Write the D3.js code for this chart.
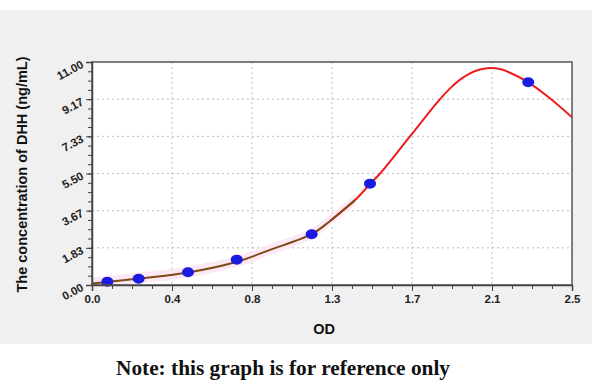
<!DOCTYPE html>
<html>
<head>
<meta charset="utf-8">
<script src="https://cdn.jsdelivr.net/npm/d3@7"></script>
<style>
  body { margin: 0; background: #fff; }
  svg { display: block; }
  .tick text { font-family: Arial, "Liberation Sans", sans-serif; font-weight: bold; font-size: 11.5px; fill: #222; }
</style>
</head>
<body>
<svg id="chart" width="600" height="390"></svg>
<script>
// standard points (OD vs concentration)
var stdOD   = [0.080, 0.243, 0.500, 0.754, 1.144, 1.448, 2.272];
var stdConc = [0.156, 0.312, 0.625, 1.25, 2.5, 5.0, 10.0];

// fitted curve
var curveOD   = [0.0, 0.078, 0.245, 0.5, 0.75, 0.927, 1.146, 1.24, 1.37, 1.448, 1.505, 1.656, 1.8125, 1.865, 1.917, 1.969, 2.021, 2.073, 2.125, 2.177, 2.271, 2.385, 2.5];
var curveConc = [0.074, 0.148, 0.32, 0.617, 1.135, 1.73, 2.52, 3.16, 4.19, 4.98, 5.55, 7.33, 9.17, 9.70, 10.13, 10.44, 10.63, 10.70, 10.65, 10.47, 10.01, 9.21, 8.27];
var brownEnd = 1.37; // brown part of the curve stops here

var xTickLabels = ["0.0", "0.4", "0.8", "1.3", "1.7", "2.1", "2.5"];
var yTickLabels = ["0.00", "1.83", "3.67", "5.50", "7.33", "9.17", "11.00"];

var xMax = 2.5, yMax = 11;

var svg = d3.select("#chart");
var margin = {left: 92, top: 62, right: 28, bottom: 105};
var w = 600 - margin.left - margin.right,
    h = 390 - margin.top - margin.bottom;

// gray panel behind everything
svg.append("rect")
  .attr("x", 0).attr("y", 10)
  .attr("width", 592).attr("height", 334)
  .attr("fill", "#f0f0f0");

var g = svg.append("g").attr("transform", `translate(${margin.left},${margin.top})`);

var x = d3.scaleLinear().domain([0, xMax]).range([0, w]);
var y = d3.scaleLinear().domain([0, yMax]).range([h, 0]);

var xMajor = xTickLabels.map((d, i) => i * xMax / 6);
var yMajor = yTickLabels.map((d, i) => i * yMax / 6);
var xMinor = d3.range(0, 25).map(i => i * xMax / 24);
var yMinor = d3.range(0, 25).map(i => i * yMax / 24);

g.append("rect").attr("width", w).attr("height", h).attr("fill", "#fff");

// dotted grid
g.append("g").selectAll("line")
  .data(xMajor.slice(1, -1))
  .join("line")
  .attr("x1", d => x(d)).attr("x2", d => x(d))
  .attr("y1", 0).attr("y2", h)
  .attr("stroke", "#bdbdbd").attr("stroke-dasharray", "2,3");
g.append("g").selectAll("line")
  .data(yMajor.slice(1, -1))
  .join("line")
  .attr("y1", d => y(d)).attr("y2", d => y(d))
  .attr("x1", 0).attr("x2", w)
  .attr("stroke", "#bdbdbd").attr("stroke-dasharray", "2,3");

// pink band round the lower curve
var allPts = curveOD.map((d, i) => [d, curveConc[i]]);
var lowPts = allPts.filter(p => p[0] <= brownEnd);
g.append("path")
  .datum(lowPts)
  .attr("fill", "#fde8f5")
  .attr("d", d3.area()
    .x(p => x(p[0]))
    .y0(p => y(p[1]) + 5)
    .y1(p => y(p[1]) - 6)
    .curve(d3.curveCatmullRom));

var line = d3.line()
  .x(p => x(p[0]))
  .y(p => y(p[1]))
  .curve(d3.curveCatmullRom.alpha(0.5));

g.append("path")
  .datum(allPts.filter(p => p[0] >= 1.24))
  .attr("fill", "none").attr("stroke", "#ee1c1c").attr("stroke-width", 2)
  .attr("d", line);
g.append("path")
  .datum(lowPts)
  .attr("fill", "none").attr("stroke", "#7f4a16").attr("stroke-width", 2)
  .attr("d", line);

// dots
g.append("g").selectAll("ellipse")
  .data(stdOD)
  .join("ellipse")
  .attr("cx", d => x(d))
  .attr("cy", (d, i) => y(stdConc[i]))
  .attr("rx", 6).attr("ry", 5)
  .attr("fill", "#1c1ce0");

// frame
g.append("rect").attr("width", w).attr("height", h)
  .attr("fill", "none").attr("stroke", "#555").attr("stroke-width", 1.5);

// axes: minor ticks first, then labelled major ticks
g.append("g").attr("transform", `translate(0,${h})`)
  .call(d3.axisBottom(x).tickValues(xMinor).tickSize(4).tickFormat(""))
  .call(a => a.select(".domain").remove())
  .selectAll("line").attr("stroke", "#444");
var xAxis = g.append("g").attr("transform", `translate(0,${h})`)
  .call(d3.axisBottom(x).tickValues(xMajor).tickSize(6).tickPadding(4)
    .tickFormat((d, i) => xTickLabels[i]));
xAxis.select(".domain").attr("stroke", "#444").attr("stroke-width", 1.5);
xAxis.selectAll("line").attr("stroke", "#444");

g.append("g")
  .call(d3.axisLeft(y).tickValues(yMinor).tickSize(4).tickFormat(""))
  .call(a => a.select(".domain").remove())
  .selectAll("line").attr("stroke", "#444");
var yAxis = g.append("g")
  .call(d3.axisLeft(y).tickValues(yMajor).tickSize(6).tickPadding(4)
    .tickFormat((d, i) => yTickLabels[i]));
yAxis.select(".domain").attr("stroke", "#444").attr("stroke-width", 1.5);
yAxis.selectAll("line").attr("stroke", "#444");
yAxis.selectAll("text")
  .attr("transform", "rotate(-28,-10,0)")
  .attr("dy", "0.45em");

// titles
svg.append("text")
  .attr("transform", `translate(27,${margin.top + h / 2 + 1}) rotate(-90)`)
  .attr("text-anchor", "middle")
  .style("font-family", "Arial, 'Liberation Sans', sans-serif")
  .style("font-weight", "bold").style("font-size", "14.5px").attr("fill", "#111")
  .text("The concentration of DHH (ng/mL)");

svg.append("text")
  .attr("x", margin.left + w / 2 - 8).attr("y", 334)
  .attr("text-anchor", "middle")
  .style("font-family", "Arial, 'Liberation Sans', sans-serif")
  .style("font-weight", "bold").style("font-size", "14.5px").attr("fill", "#111")
  .text("OD");

svg.append("text")
  .attr("x", 116).attr("y", 375)
  .attr("textLength", 334).attr("lengthAdjust", "spacingAndGlyphs")
  .style("font-family", "'Liberation Serif', 'DejaVu Serif', serif")
  .style("font-weight", "bold").style("font-size", "20px").attr("fill", "#111")
  .text("Note: this graph is for reference only");
</script>
</body>
</html>
